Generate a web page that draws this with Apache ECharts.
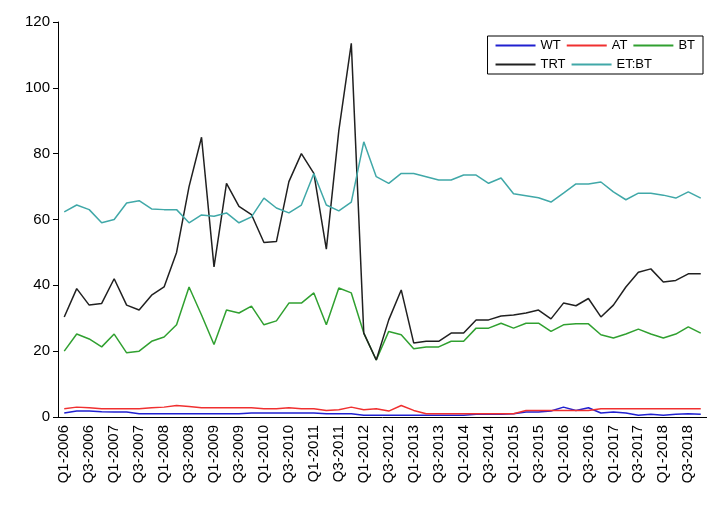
<!DOCTYPE html>
<html>
<head>
<meta charset="utf-8">
<script src="https://cdn.jsdelivr.net/npm/echarts@6/dist/echarts.min.js"></script>
<style>html,body{margin:0;background:#fff}#map{width:707px;height:507px}</style>
</head>
<body>
<div id="map"></div>
<script>
// quarters Q1-2006 .. Q4-2018
const quarters = [];
for (let y = 2006; y <= 2018; y++) for (let q = 1; q <= 4; q++) quarters.push('Q' + q + '-' + y);

const wt = [1.2,1.8,1.8,1.6,1.5,1.5,1.0,1.0,1.0,1.0,1.0,1.0,1.0,1.0,1.0,1.2,1.2,1.2,1.2,1.2,1.2,1.0,1.0,1.0,0.5,0.5,0.5,0.5,0.5,0.5,0.5,0.5,0.5,0.8,0.8,0.8,1.0,1.5,1.5,1.8,3.0,2.0,2.8,1.2,1.5,1.2,0.5,0.8,0.5,0.8,1.0,0.8];
const at = [2.5,3.0,2.8,2.5,2.5,2.5,2.5,2.8,3.0,3.5,3.2,2.8,2.8,2.8,2.8,2.8,2.5,2.5,2.8,2.5,2.5,2.0,2.2,3.0,2.2,2.5,1.8,3.5,2.0,1.0,1.0,1.0,1.0,1.0,1.0,1.0,1.0,2.0,2.0,2.0,2.0,2.0,2.0,2.5,2.5,2.5,2.5,2.5,2.5,2.5,2.5,2.5];
const bt = [20,25.2,23.7,21.3,25.2,19.5,20,23,24.3,28,39.5,31,22,32.5,31.6,33.7,28,29.2,34.6,34.6,37.7,28,39.2,37.7,25.5,17.3,26,25,20.7,21.3,21.3,23,23,27,27,28.5,27,28.5,28.5,26,28,28.3,28.3,25,24,25.2,26.7,25.2,24,25.2,27.4,25.5];
const trt = [30.4,39,34,34.5,42,34,32.5,37,39.5,50,70,85,45.6,71,64,61.5,53,53.3,71.5,80,74,51,87,113.5,25.5,17.3,29.5,38.6,22.5,23,23,25.5,25.5,29.5,29.5,30.7,31,31.6,32.5,29.8,34.6,33.8,36,30.4,34,39.5,44,45,41,41.5,43.5,43.5];
const etbt = [62.3,64.4,63,59,60,65,65.7,63.2,63,63,59,61.4,61,62,59,60.8,66.5,63.5,62,64.4,74,64.4,62.6,65.3,83.6,73,71,74,74,73,72,72,73.5,73.5,71,72.6,67.8,67.2,66.6,65.3,68,70.8,70.8,71.4,68.4,66,68,68,67.4,66.5,68.4,66.5];
const yTicks = [0, 120, 20];

const names = ['WT', 'AT', 'BT', 'TRT', 'ET:BT'];
const colors = ['#2020d0', '#f03030', '#30a030', '#202020', '#40a8a8'];
const values = [wt, at, bt, trt, etbt];

let option = {
    animation: false,
    grid: { left: 58, right: 0, top: 22, bottom: 90 },
    legend: {
        right: 4, top: 36, width: 262,
        orient: 'horizontal',
        backgroundColor: '#fff', borderColor: '#000', borderWidth: 1,
        padding: [3, 8], itemGap: 6, itemWidth: 40, itemHeight: 2,
        icon: 'rect',
        textStyle: { fontFamily: 'Liberation Sans', fontSize: 13, color: '#000', width: 44 },
        data: names
    },
    xAxis: {
        type: 'category', data: quarters, boundaryGap: true,
        axisLine: { lineStyle: { color: '#000' } },
        axisTick: { alignWithLabel: true, interval: 0, lineStyle: { color: '#000' } },
        axisLabel: { rotate: 90, interval: 1, color: '#000', fontFamily: 'Liberation Sans', fontSize: 15 }
    },
    yAxis: {
        type: 'value', min: yTicks[0], max: yTicks[1], interval: yTicks[2],
        axisLine: { show: true, lineStyle: { color: '#000' } },
        axisTick: { show: true, lineStyle: { color: '#000' } },
        splitLine: { show: false },
        axisLabel: { color: '#000', fontFamily: 'Liberation Sans', fontSize: 15 }
    },
    series: names.map((n, i) => ({
        name: n, type: 'line', data: values[i], symbol: 'none',
        lineStyle: { width: 1.5, color: colors[i] }, itemStyle: { color: colors[i] }
    }))
};

let myChart = echarts.init(document.getElementById('map'));
myChart.setOption(option);
</script>
</body>
</html>
